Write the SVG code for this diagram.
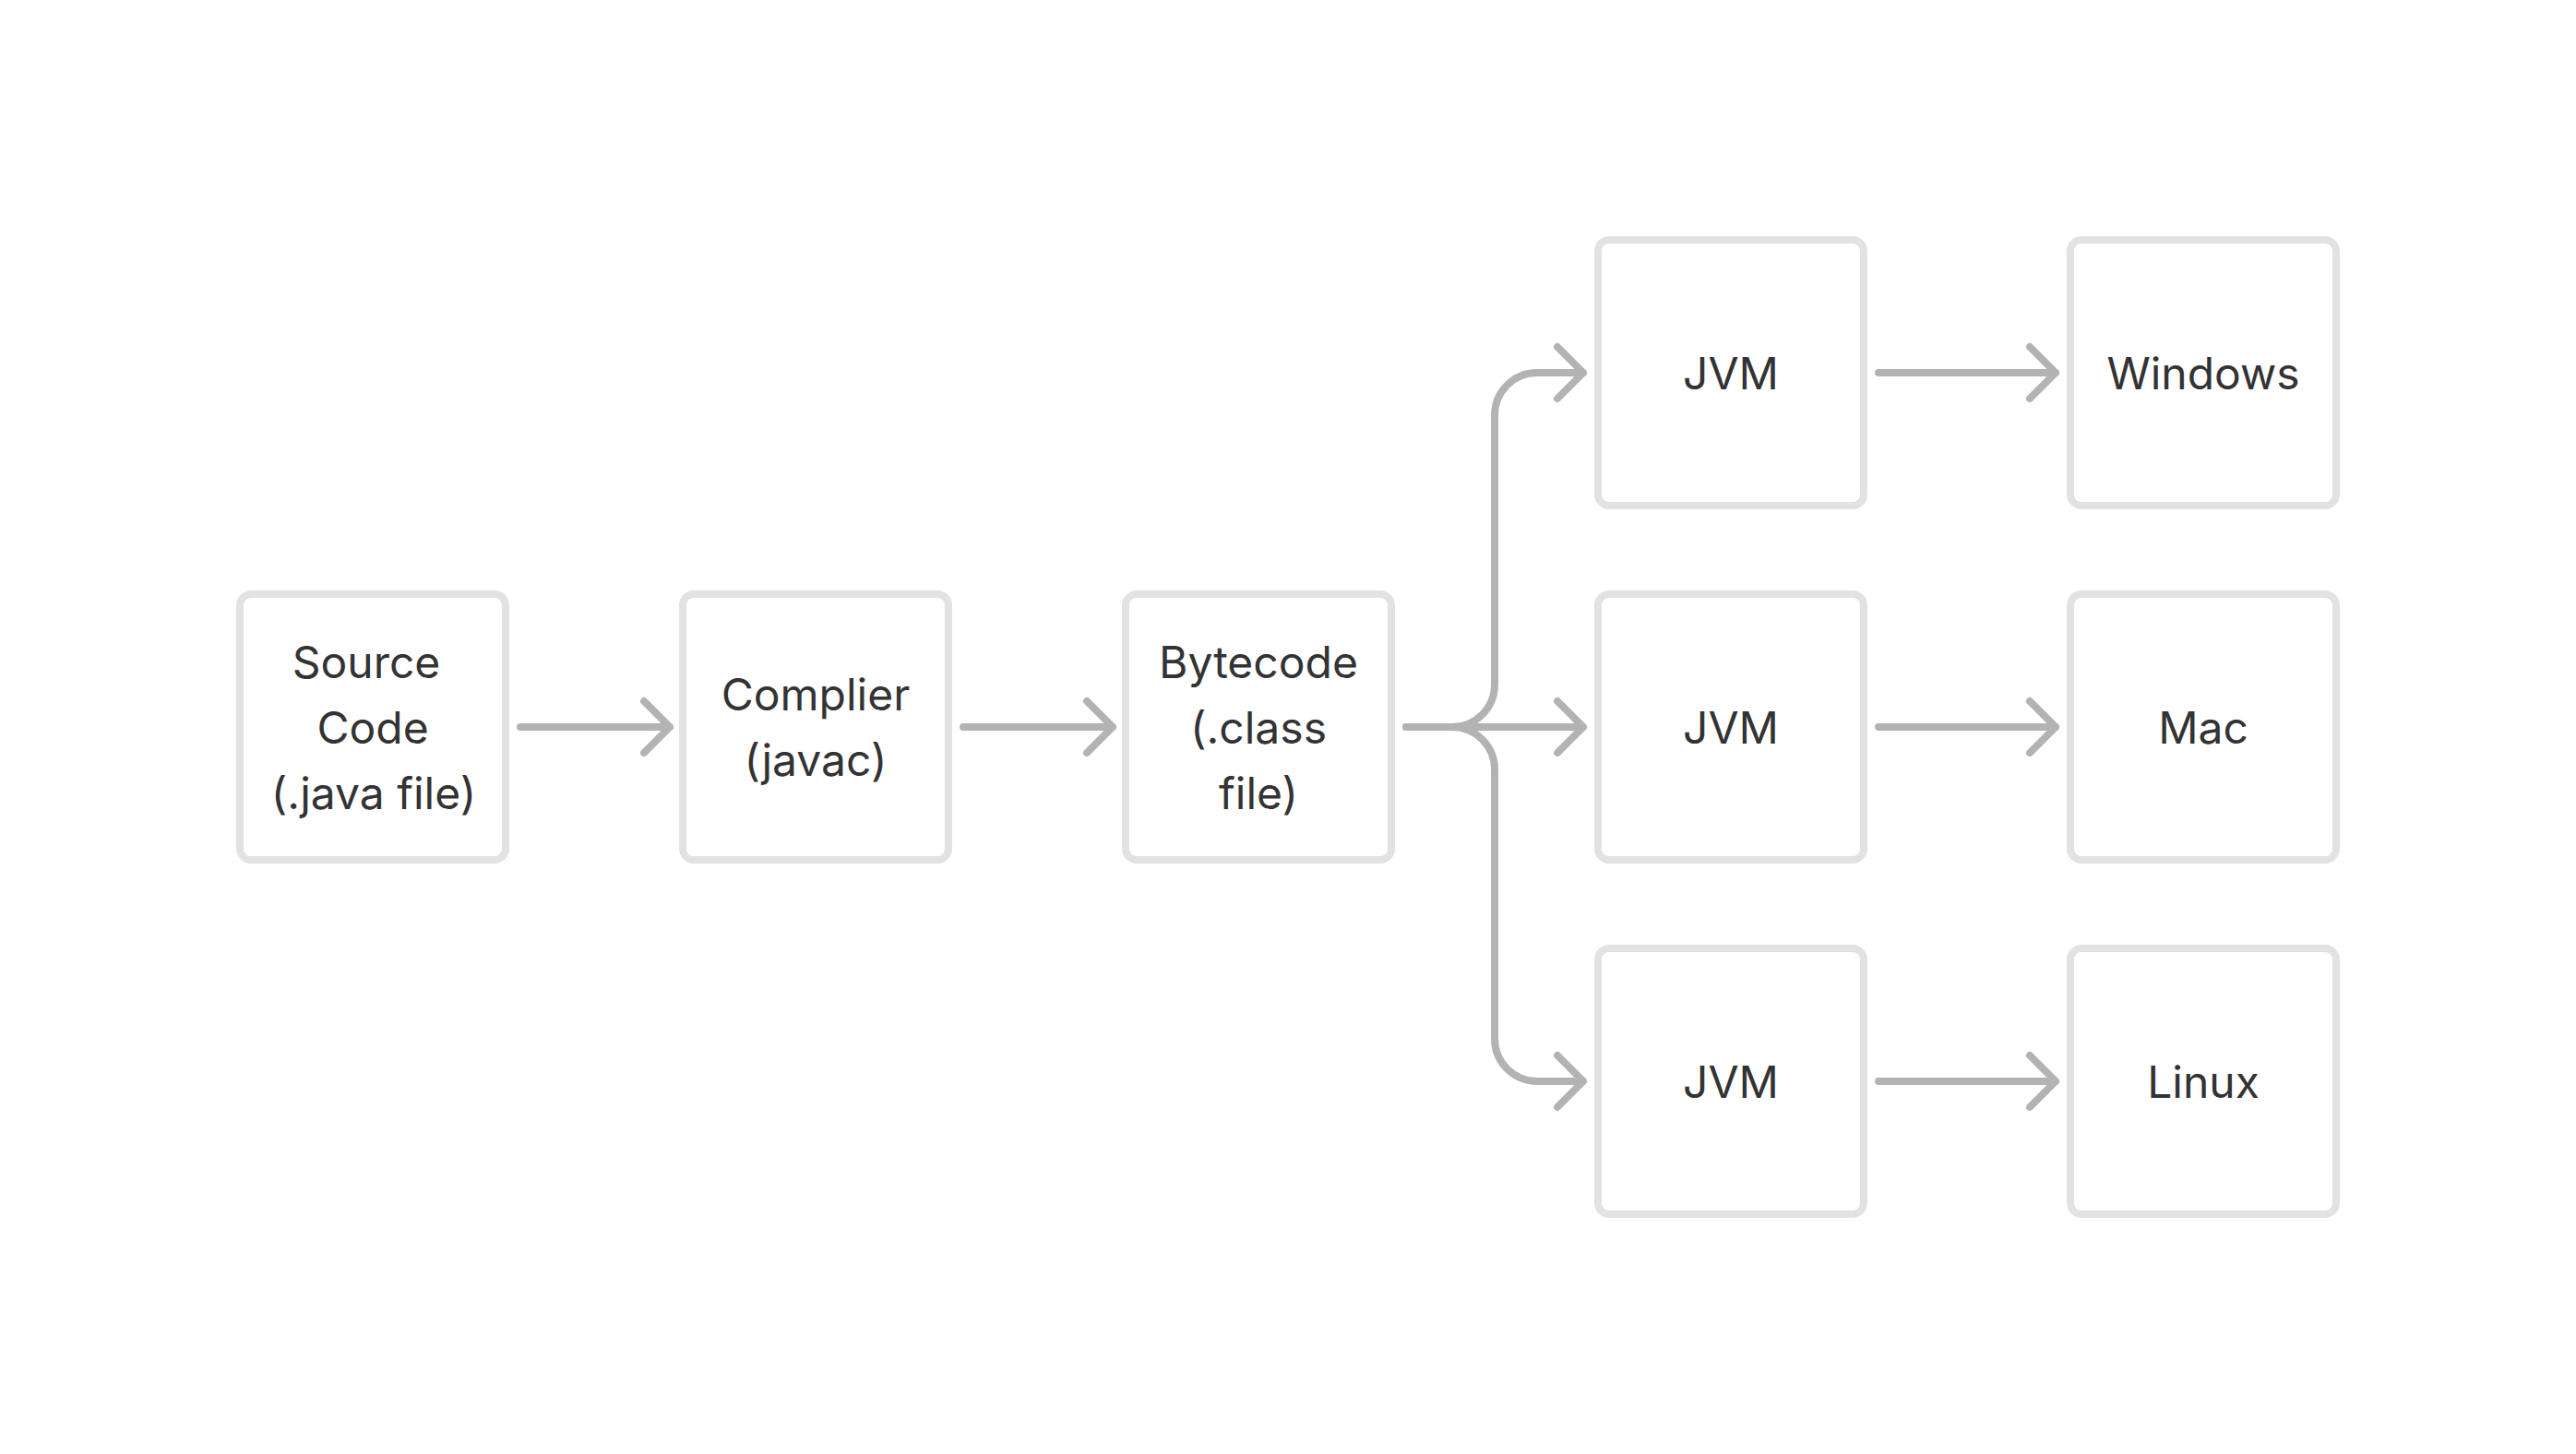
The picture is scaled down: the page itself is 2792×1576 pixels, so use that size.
<svg xmlns="http://www.w3.org/2000/svg" width="2792" height="1576" viewBox="0 0 2792 1576">
<style>
.box{fill:#ffffff;stroke:#e2e2e2;stroke-width:8}
.lbl{font-family:Inter,"Liberation Sans",sans-serif;font-size:48px;fill:#333333;text-anchor:middle}
.edge{fill:none;stroke:#b3b3b3;stroke-width:8;stroke-linecap:round;stroke-linejoin:round}
</style>
<rect width="2792" height="1576" fill="#ffffff"/>
<g id="source">
<rect class="box" x="260" y="644" width="288" height="288" rx="12"/>
<text class="lbl" x="397" y="735">Source</text>
<text class="lbl" x="404" y="806">Code</text>
<text class="lbl" x="405" y="877">(.java file)</text>
</g>
<g id="compiler">
<rect class="box" x="740" y="644" width="288" height="288" rx="12"/>
<text class="lbl" x="884" y="770">Complier</text>
<text class="lbl" x="884" y="841">(javac)</text>
</g>
<g id="bytecode">
<rect class="box" x="1220" y="644" width="288" height="288" rx="12"/>
<text class="lbl" x="1364" y="735">Bytecode</text>
<text class="lbl" x="1364" y="806">(.class</text>
<text class="lbl" x="1364" y="877">file)</text>
</g>
<g id="jvm1">
<rect class="box" x="1732" y="260" width="288" height="288" rx="12"/>
<text class="lbl" x="1876" y="422">JVM</text>
</g>
<g id="jvm2">
<rect class="box" x="1732" y="644" width="288" height="288" rx="12"/>
<text class="lbl" x="1876" y="806">JVM</text>
</g>
<g id="jvm3">
<rect class="box" x="1732" y="1028" width="288" height="288" rx="12"/>
<text class="lbl" x="1876" y="1190">JVM</text>
</g>
<g id="windows">
<rect class="box" x="2244" y="260" width="288" height="288" rx="12"/>
<text class="lbl" x="2388" y="422">Windows</text>
</g>
<g id="mac">
<rect class="box" x="2244" y="644" width="288" height="288" rx="12"/>
<text class="lbl" x="2388" y="806">Mac</text>
</g>
<g id="linux">
<rect class="box" x="2244" y="1028" width="288" height="288" rx="12"/>
<text class="lbl" x="2388" y="1190">Linux</text>
</g>
<g id="connectors">
<path class="edge" d="M564 788 H726 M698 760 L726 788 L698 816"/>
<path class="edge" d="M1044 788 H1206 M1178 760 L1206 788 L1178 816"/>
<path class="edge" d="M1524 788 H1574 A46 46 0 0 0 1620 742 V450 A46 46 0 0 1 1666 404 H1716 M1688 376 L1716 404 L1688 432"/>
<path class="edge" d="M1524 788 H1716 M1688 760 L1716 788 L1688 816"/>
<path class="edge" d="M1524 788 H1574 A46 46 0 0 1 1620 834 V1126 A46 46 0 0 0 1666 1172 H1716 M1688 1144 L1716 1172 L1688 1200"/>
<path class="edge" d="M2036 404 H2228 M2200 376 L2228 404 L2200 432"/>
<path class="edge" d="M2036 788 H2228 M2200 760 L2228 788 L2200 816"/>
<path class="edge" d="M2036 1172 H2228 M2200 1144 L2228 1172 L2200 1200"/>
</g>
</svg>
